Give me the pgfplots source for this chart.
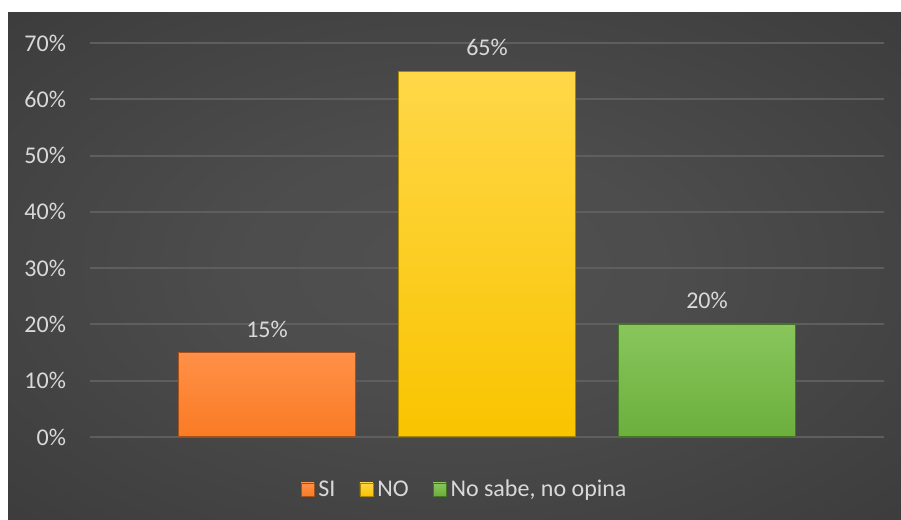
\documentclass[border=0pt]{standalone}
\usepackage{pgfplots}
\pgfplotsset{compat=1.18}
\usepackage{fontspec}
\setmainfont{Carlito}
\definecolor{bgin}{HTML}{505050}
\definecolor{bgout}{HTML}{252525}
\definecolor{gridc}{HTML}{5E5E5E}
\definecolor{txt}{HTML}{D9D9D9}
\definecolor{orT}{HTML}{FF9048}
\definecolor{orM}{HTML}{FF832E}
\definecolor{orB}{HTML}{FA7B24}
\definecolor{orD}{HTML}{A8521A}
\definecolor{yeT}{HTML}{FFD748}
\definecolor{yeM}{HTML}{FFCD22}
\definecolor{yeB}{HTML}{F9C400}
\definecolor{yeD}{HTML}{A88600}
\definecolor{grT}{HTML}{88C65C}
\definecolor{grM}{HTML}{78BB48}
\definecolor{grB}{HTML}{6CAF3D}
\definecolor{grD}{HTML}{457526}
\pgfdeclareradialshading{bgshade}{\pgfpoint{0bp}{0bp}}{color(0bp)=(bgin); color(12bp)=(bgin!92!bgout); color(70bp)=(bgout)}
\begin{document}
\begin{tikzpicture}[x=1pt,y=1pt]
\useasboundingbox (0,0) rectangle (450.5,260);
\fill[white] (0,0) rectangle (450.5,260);
\shade[shading=bgshade] (4,0) rectangle (450.5,253.5);
\begin{axis}[
  at={(45pt,41.5pt)}, anchor=south west,
  scale only axis, width=397pt, height=197pt,
  xmin=0.1955, xmax=3.8045,
  ymin=0, ymax=70,
  ytick={0,10,...,70}, xtick=\empty,
  yticklabel={\pgfmathprintnumber{\tick}\%},
  axis line style={draw=none},
  major tick length=0pt,
  ymajorgrids, grid style={gridc, line width=1pt},
  tick label style={font=\fontsize{12}{14}\selectfont, text=txt},
  yticklabel style={xshift=-8.5pt},
  /pgf/number format/assume math mode=true,
  ybar, bar width=0.8045, bar shift=0pt,
  nodes near coords={\pgfmathprintnumber{\pgfplotspointmeta}\%},
  nodes near coords style={font=\fontsize{12}{14}\selectfont, text=txt, yshift=4pt},
  legend style={at={(0.473,-0.1345)}, anchor=center, draw=none, fill=none,
    legend columns=-1, font=\fontsize{12}{14}\selectfont, text=txt,
    /tikz/every even column/.append style={column sep=10pt}},
  legend image code/.code={\draw[#1, line width=0.4pt] (0pt,-3pt) rectangle (6.5pt,3.5pt);},
]
\addplot[draw=orD, top color=orT, middle color=orM, bottom color=orB, line width=0.6pt] coordinates {(1,15)};
\addplot[draw=yeD, top color=yeT, middle color=yeM, bottom color=yeB, line width=0.6pt] coordinates {(2,65)};
\addplot[draw=grD, top color=grT, middle color=grM, bottom color=grB, line width=0.6pt] coordinates {(3,20)};
\legend{SI, NO, {No sabe, no opina}}
\end{axis}
\end{tikzpicture}
\end{document}
